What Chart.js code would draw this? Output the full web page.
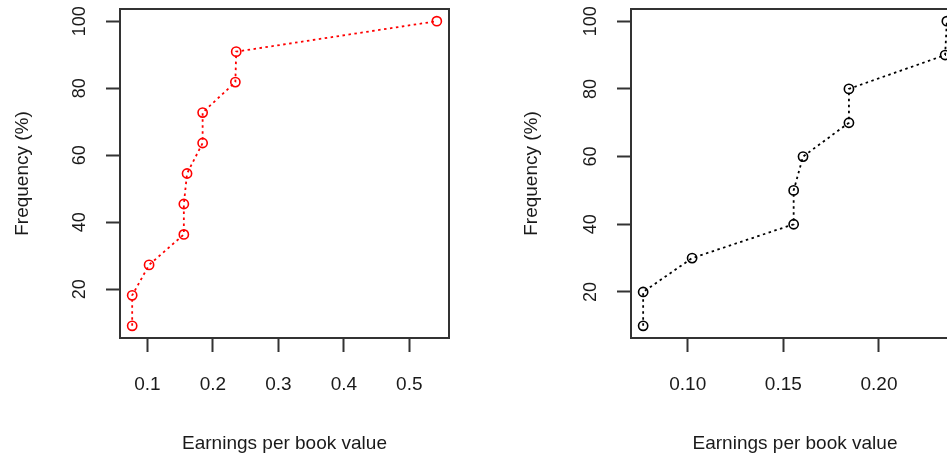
<!DOCTYPE html>
<html>
<head>
<meta charset="utf-8">
<script src="https://cdn.jsdelivr.net/npm/chart.js@4.4.1/dist/chart.umd.min.js"></script>
<style>
  html, body { margin: 0; padding: 0; background: #fff; overflow: hidden; width: 947px; height: 459px; }
  canvas { position: absolute; top: 0; }
  #ecdfAll { left: 0; }
  #ecdfTrim { left: 480px; }
</style>
</head>
<body>
<canvas id="ecdfAll" width="480" height="459"></canvas>
<canvas id="ecdfTrim" width="500" height="459"></canvas>
<script>
// Left panel: all 11 firms (red), right panel: without the outlier (black)
const epbAll = [0.0767, 0.0767, 0.1025, 0.1556, 0.1556, 0.1605, 0.1843, 0.1843, 0.2343, 0.2356, 0.542];
const freqAll = [9.09, 18.18, 27.27, 36.36, 45.45, 54.55, 63.64, 72.73, 81.82, 90.91, 100];
const epbTrim = [0.0767, 0.0767, 0.1023, 0.1554, 0.1554, 0.1603, 0.1843, 0.1843, 0.2346, 0.2355];
const freqTrim = [10, 20, 30, 40, 50, 60, 70, 80, 90, 100];

const xTicksAll = [0.1, 0.2, 0.3, 0.4, 0.5];
const xLabelsAll = ['0.1', '0.2', '0.3', '0.4', '0.5'];
const xTicksTrim = [0.10, 0.15, 0.20];
const xLabelsTrim = ['0.10', '0.15', '0.20'];
const yTicks = [20, 40, 60, 80, 100];
const yLabels = ['20', '40', '60', '80', '100'];

const FONT = "Arial, 'Liberation Sans', sans-serif";
const INK = '#1a1a1a';
const AXIS = '#333';

// R-style axis limits: data range stretched by 4% each side
function rRange(vals) {
    const lo = Math.min(...vals), hi = Math.max(...vals);
    const pad = (hi - lo) * 0.04;
    return [lo - pad, hi + pad];
}

const framePlugin = {
    id: 'frame',
    afterDraw(chart) {
        const a = chart.chartArea;
        const ctx = chart.ctx;
        ctx.save();
        ctx.strokeStyle = AXIS;
        ctx.lineWidth = 2;
        ctx.strokeRect(a.left, a.top, a.right - a.left, a.bottom - a.top);
        ctx.restore();
    }
};

function makePanel(id, xs, ys, color, xTicks, xLabels, yWidth, padRight, yTitlePad) {
    const [xMin, xMax] = rRange(xs);
    const [yMin, yMax] = rRange(ys);
    return new Chart(document.getElementById(id), {
        type: 'scatter',
        data: {
            datasets: [{
                data: xs.map((x, i) => ({ x: x, y: ys[i] })),
                showLine: true,
                borderColor: color,
                borderWidth: 1.8,
                borderDash: [2.5, 3.5],
                pointStyle: 'circle',
                pointRadius: 4.6,
                pointBorderWidth: 1.6,
                pointBorderColor: color,
                pointBackgroundColor: 'rgba(0,0,0,0)',
                tension: 0
            }]
        },
        options: {
            responsive: false,
            animation: false,
            layout: { padding: { left: 0, top: 9, right: padRight, bottom: 0 } },
            plugins: { legend: { display: false }, tooltip: { enabled: false } },
            scales: {
                x: {
                    type: 'linear',
                    min: xMin,
                    max: xMax,
                    afterBuildTicks: s => { s.ticks = xTicks.map(v => ({ value: v })); },
                    afterFit: s => { s.height = 121; s.paddingLeft = 0; s.paddingRight = 0; },
                    border: { display: false },
                    grid: { drawOnChartArea: false, drawTicks: true, tickLength: 14, tickColor: AXIS, tickWidth: 2 },
                    ticks: {
                        padding: 21,
                        maxRotation: 0,
                        autoSkip: false,
                        color: INK,
                        font: { family: FONT, size: 19 },
                        callback: v => xLabels[xTicks.indexOf(v)]
                    },
                    title: {
                        display: true,
                        text: 'Earnings per book value',
                        color: INK,
                        font: { family: FONT, size: 19 },
                        padding: { top: 0, bottom: 4 }
                    }
                },
                y: {
                    type: 'linear',
                    min: yMin,
                    max: yMax,
                    afterBuildTicks: s => { s.ticks = yTicks.map(v => ({ value: v })); },
                    afterFit: s => { s.width = yWidth; s.paddingTop = 0; s.paddingBottom = 0; },
                    border: { display: false },
                    grid: { drawOnChartArea: false, drawTicks: true, tickLength: 14, tickColor: AXIS, tickWidth: 2 },
                    ticks: {
                        padding: 11,
                        minRotation: 90,
                        maxRotation: 90,
                        crossAlign: 'center',
                        autoSkip: false,
                        color: INK,
                        font: { family: FONT, size: 18 },
                        callback: v => yLabels[yTicks.indexOf(v)]
                    },
                    title: {
                        display: true,
                        text: 'Frequency (%)',
                        color: INK,
                        font: { family: FONT, size: 19 },
                        padding: { top: yTitlePad, bottom: 0 }
                    }
                }
            }
        },
        plugins: [framePlugin]
    });
}

makePanel('ecdfAll', epbAll, freqAll, '#ff0000', xTicksAll, xLabelsAll, 120, 31, 11);
makePanel('ecdfTrim', epbTrim, freqTrim, '#000000', xTicksTrim, xLabelsTrim, 151, 21, 40);
</script>
</body>
</html>
